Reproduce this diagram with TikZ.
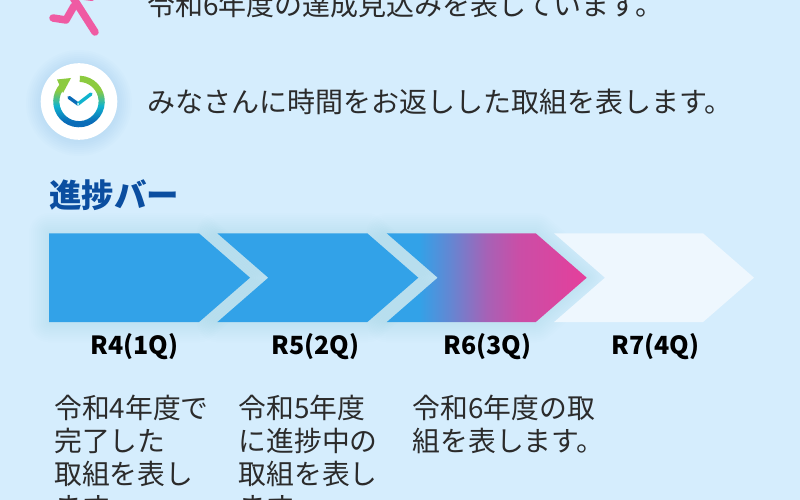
\documentclass[tikz,border=0pt]{standalone}
\usepackage{fontspec}
\setmainfont{Noto Sans CJK JP}
\usetikzlibrary{calc}

\definecolor{bgblue}{HTML}{D5EDFD}
\definecolor{glowblue}{HTML}{6DB6EA}
\definecolor{barblue}{HTML}{32A2E8}
\definecolor{barpink}{HTML}{E53F9B}
\definecolor{barpale}{HTML}{EEF7FE}
\definecolor{headblue}{HTML}{0B4EA0}
\definecolor{textgray}{HTML}{2B2B2B}
\definecolor{runpink}{HTML}{EF5BA3}
\definecolor{ringgreen}{HTML}{8CCB3F}
\definecolor{ringteal}{HTML}{10B3CE}
\definecolor{ringblue}{HTML}{0A6CB8}

\pgfdeclarehorizontalshading{barshade}{100bp}{
  color(0bp)=(barblue); color(33bp)=(barblue); color(41.5bp)=(barpink!30!barblue);
  color(50bp)=(barpink!65!barblue); color(58bp)=(barpink!85!barblue);
  color(75bp)=(barpink); color(100bp)=(barpink)}
\pgfdeclareverticalshading{ringshade}{100bp}{
  color(0bp)=(ringblue); color(31bp)=(ringblue); color(46bp)=(ringteal);
  color(61bp)=(ringgreen); color(100bp)=(ringgreen)}

% one bar part: start x, length of its straight top side
\newcommand{\barpath}[2]{(#1,233.3) -- ++(#2,0) -- ++(51,44.4) -- ++(-51,44.4) -- ++(-#2,0)}

\begin{document}
\begin{tikzpicture}
  [
    x=1pt, y=-1pt,
    desc/.style =
      {anchor=north west, align=left, inner sep=0pt, text=textgray,
       font=\fontsize{27.8}{33}\selectfont},
    line/.style =
      {anchor=west, inner sep=0pt, text=textgray, font=\fontsize{28}{33}\selectfont},
    quarter/.style =
      {anchor=center, inner sep=0pt, text=black, font=\fontsize{25}{28}\selectfont\bfseries},
    runner/.style =
      {draw=runpink, line width=7.5pt, line cap=round, line join=round},
    glow/.style =
      {draw=glowblue, draw opacity=.017, line join=round}
  ]

\useasboundingbox (0,0) rectangle (800,500);
\fill[bgblue] (0,0) rectangle (800,500);

% runner icon, cut by the top edge
\draw[runner] (53,18) -- (66,20) -- (74,6);
\draw[runner] (72,-4) -- (95,32);
\draw[runner, line width=4pt] (76,-3) -- (92,-1);

\node[line] (running) at (147,5) {令和6年度の達成見込みを表しています。};

% clock icon
\foreach \r in {39,41,...,53}
  \fill[glowblue, opacity=.025] (79,103) circle (\r);
\fill[white] (79,101.5) circle (38.3);
\path[shade, shading=ringshade]
  (79,101.5) ++(-88:25.8) arc (-88:222:25.8)
  -- ($(79,101.5)+(222:19.6)$) arc (222:-88:19.6) -- cycle;
\fill[ringgreen] (57,79.5) -- (71,78) -- (63,93) -- cycle;
\draw[ringblue, line width=3.4pt, line cap=round] (78,104) -- (69,97.5);
\draw[ringteal, line width=3.4pt, line cap=round] (78,104) -- (91,94);
\fill[white] (78,104) circle (1);

\node[line] (returned) at (147,102) {みなさんに時間をお返しした取組を表します。};

\node[anchor=west, inner sep=0pt, text=headblue, font=\fontsize{32.5}{36}\selectfont\bfseries]
  (barhead) at (49,195) {進捗バー};

% glow under the bar
\foreach \w in {4,8,...,40} {
  \draw[glow, line width=\w pt] \barpath{49}{150} -- cycle;
  \draw[glow, line width=\w pt] \barpath{217.3}{150} -- ++(51,-44.4) -- cycle;
  \draw[glow, line width=\w pt] \barpath{386.7}{149} -- ++(51,-44.4) -- cycle;
}

\fill[barblue] \barpath{49}{150} -- cycle;
\fill[barblue] \barpath{217.3}{150} -- ++(51,-44.4) -- cycle;
\path[shade, shading=barshade] \barpath{386.7}{149} -- ++(51,-44.4) -- cycle;
\fill[barpale] \barpath{554}{149} -- ++(51,-44.4) -- cycle;

\node[quarter] (qfour) at (134.5,347) {R4(1Q)};
\node[quarter] (qfive) at (315.5,347) {R5(2Q)};
\node[quarter] (qsix) at (487.5,347) {R6(3Q)};
\node[quarter] (qseven) at (655.5,347) {R7(4Q)};

\node[desc] (dfour) at (54,394.5) {令和4年度で\\完了した\\取組を表し\\ます。};
\node[desc] (dfive) at (238.5,394.5) {令和5年度\\に進捗中の\\取組を表し\\ます。};
\node[desc] (dsix) at (412.5,394.5) {令和6年度の取\\組を表します。};

\end{tikzpicture}
\end{document}
